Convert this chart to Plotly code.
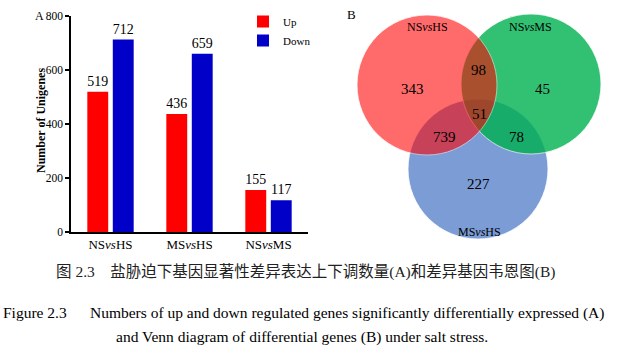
import plotly.graph_objects as go

# ---------------- data ----------------
categories = ["NS<i>vs</i>HS", "MS<i>vs</i>HS", "NS<i>vs</i>MS"]
up_values = [519, 436, 155]
down_values = [712, 659, 117]
series_names = ["Up", "Down"]
y_ticks = [0, 200, 400, 600, 800]

venn_sets = ["NS<i>vs</i>HS", "NS<i>vs</i>MS", "MS<i>vs</i>HS"]
# region counts: only A, only B, only C, AB, AC, BC, ABC
venn_counts = {"A": 343, "B": 45, "C": 227, "AB": 98, "AC": 739, "BC": 78, "ABC": 51}

caption_cn = "图 2.3\u00a0\u00a0\u00a0\u00a0盐胁迫下基因显著性差异表达上下调数量(A)和差异基因韦恩图(B)"
caption_en1 = ("Figure 2.3" + "\u00a0" * 6 +
               "Numbers of up and down regulated genes significantly differentially expressed (A)")
caption_en2 = "and Venn diagram of differential genes (B) under salt stress."

# ---------------- layout helpers ----------------
W, H = 631, 360
SERIF = "Liberation Serif, Times New Roman, serif"
CJK = "Liberation Serif, Noto Sans CJK SC, serif"


def px(x):
    return x / W


def py(y):
    return 1 - y / H


def label(x, y, text, size, family=SERIF, color="black", **kw):
    return dict(x=px(x), y=py(y), xref="paper", yref="paper", text=text,
                xanchor="center", yanchor="middle", showarrow=False,
                font=dict(family=family, size=size, color=color), **kw)


fig = go.Figure()

fig.add_trace(go.Bar(
    x=categories, y=up_values, name=series_names[0],
    marker=dict(color="#FF0000", line=dict(width=0)),
    text=[str(v) for v in up_values], textposition="outside",
    textfont=dict(family=SERIF, size=14, color="black"), cliponaxis=False,
))
fig.add_trace(go.Bar(
    x=categories, y=down_values, name=series_names[1],
    marker=dict(color="#0000C8", line=dict(width=0)),
    text=[str(v) for v in down_values], textposition="outside",
    textfont=dict(family=SERIF, size=14, color="black"), cliponaxis=False,
))

# ---------------- Venn geometry ----------------
R = 70
circles = {
    "C": dict(cx=478, cy=169, fill="rgb(123,156,212)", op=1.0),
    "B": dict(cx=531, cy=84, fill="rgb(0,177,80)", op=0.8),
    "A": dict(cx=427, cy=85, fill="rgb(255,0,0)", op=0.58),
}
shapes = []
for key in ["C", "B", "A"]:
    c = circles[key]
    shapes.append(dict(
        type="circle", xref="paper", yref="paper",
        x0=px(c["cx"] - R), x1=px(c["cx"] + R),
        y0=py(c["cy"] + R), y1=py(c["cy"] - R),
        fillcolor=c["fill"], opacity=c["op"],
        line=dict(color="rgba(255,255,255,0.8)", width=1),
    ))

# label positions for Venn regions (pixel layout)
region_pos = {"A": (412, 89), "B": (542, 89), "C": (478, 184),
              "AB": (478, 70), "AC": (444, 137), "BC": (516, 137), "ABC": (479, 114)}
set_label_pos = [(427, 27), (530, 27), (479, 232)]

annotations = []
for k, v in venn_counts.items():
    x, y = region_pos[k]
    annotations.append(label(x, y, str(v), 15))
for name, (x, y) in zip(venn_sets, set_label_pos):
    annotations.append(label(x, y, name, 12))

# panel letters, axis title, captions
annotations += [
    label(39, 16, "A", 12),
    label(351, 15, "B", 13),
    label(41, 121, "<b>Number of Unigenes</b>", 12, textangle=-90),
    label(305, 272, caption_cn, 15.5, family=CJK, color="#222"),
    label(303, 313, caption_en1, 15.5),
    label(302, 337, caption_en2, 15.5),
]

fig.update_layout(
    width=W, height=H,
    margin=dict(l=0, r=0, t=0, b=0, pad=0, autoexpand=False),
    paper_bgcolor="white", plot_bgcolor="rgba(0,0,0,0)",
    barmode="group", bargap=0.355, bargroupgap=0.18,
    showlegend=True,
    legend=dict(x=px(243), y=py(7), xanchor="left", yanchor="top",
                font=dict(family=SERIF, size=11, color="black"),
                bgcolor="rgba(0,0,0,0)", tracegroupgap=0, itemwidth=30),
    xaxis=dict(domain=[px(71), px(308)], range=[-0.5, 2.5], anchor="y", automargin=False,
               showline=True, linecolor="black", linewidth=1.5,
               ticks="", showgrid=False, zeroline=False,
               tickfont=dict(family=SERIF, size=13, color="black")),
    yaxis=dict(domain=[py(232), py(15.7)], range=[0, 800], anchor="x", automargin=False,
               tickvals=y_ticks, showline=True, linecolor="black", linewidth=1.5,
               ticks="outside", ticklen=4, tickwidth=1.5, tickcolor="black",
               showgrid=False, zeroline=False,
               tickfont=dict(family=SERIF, size=11.5, color="black")),
    shapes=shapes,
    annotations=annotations,
)

fig.write_html("out.html", config={"displayModeBar": False},
               post_script="document.body.style.margin='0';document.body.style.overflow='hidden';")
